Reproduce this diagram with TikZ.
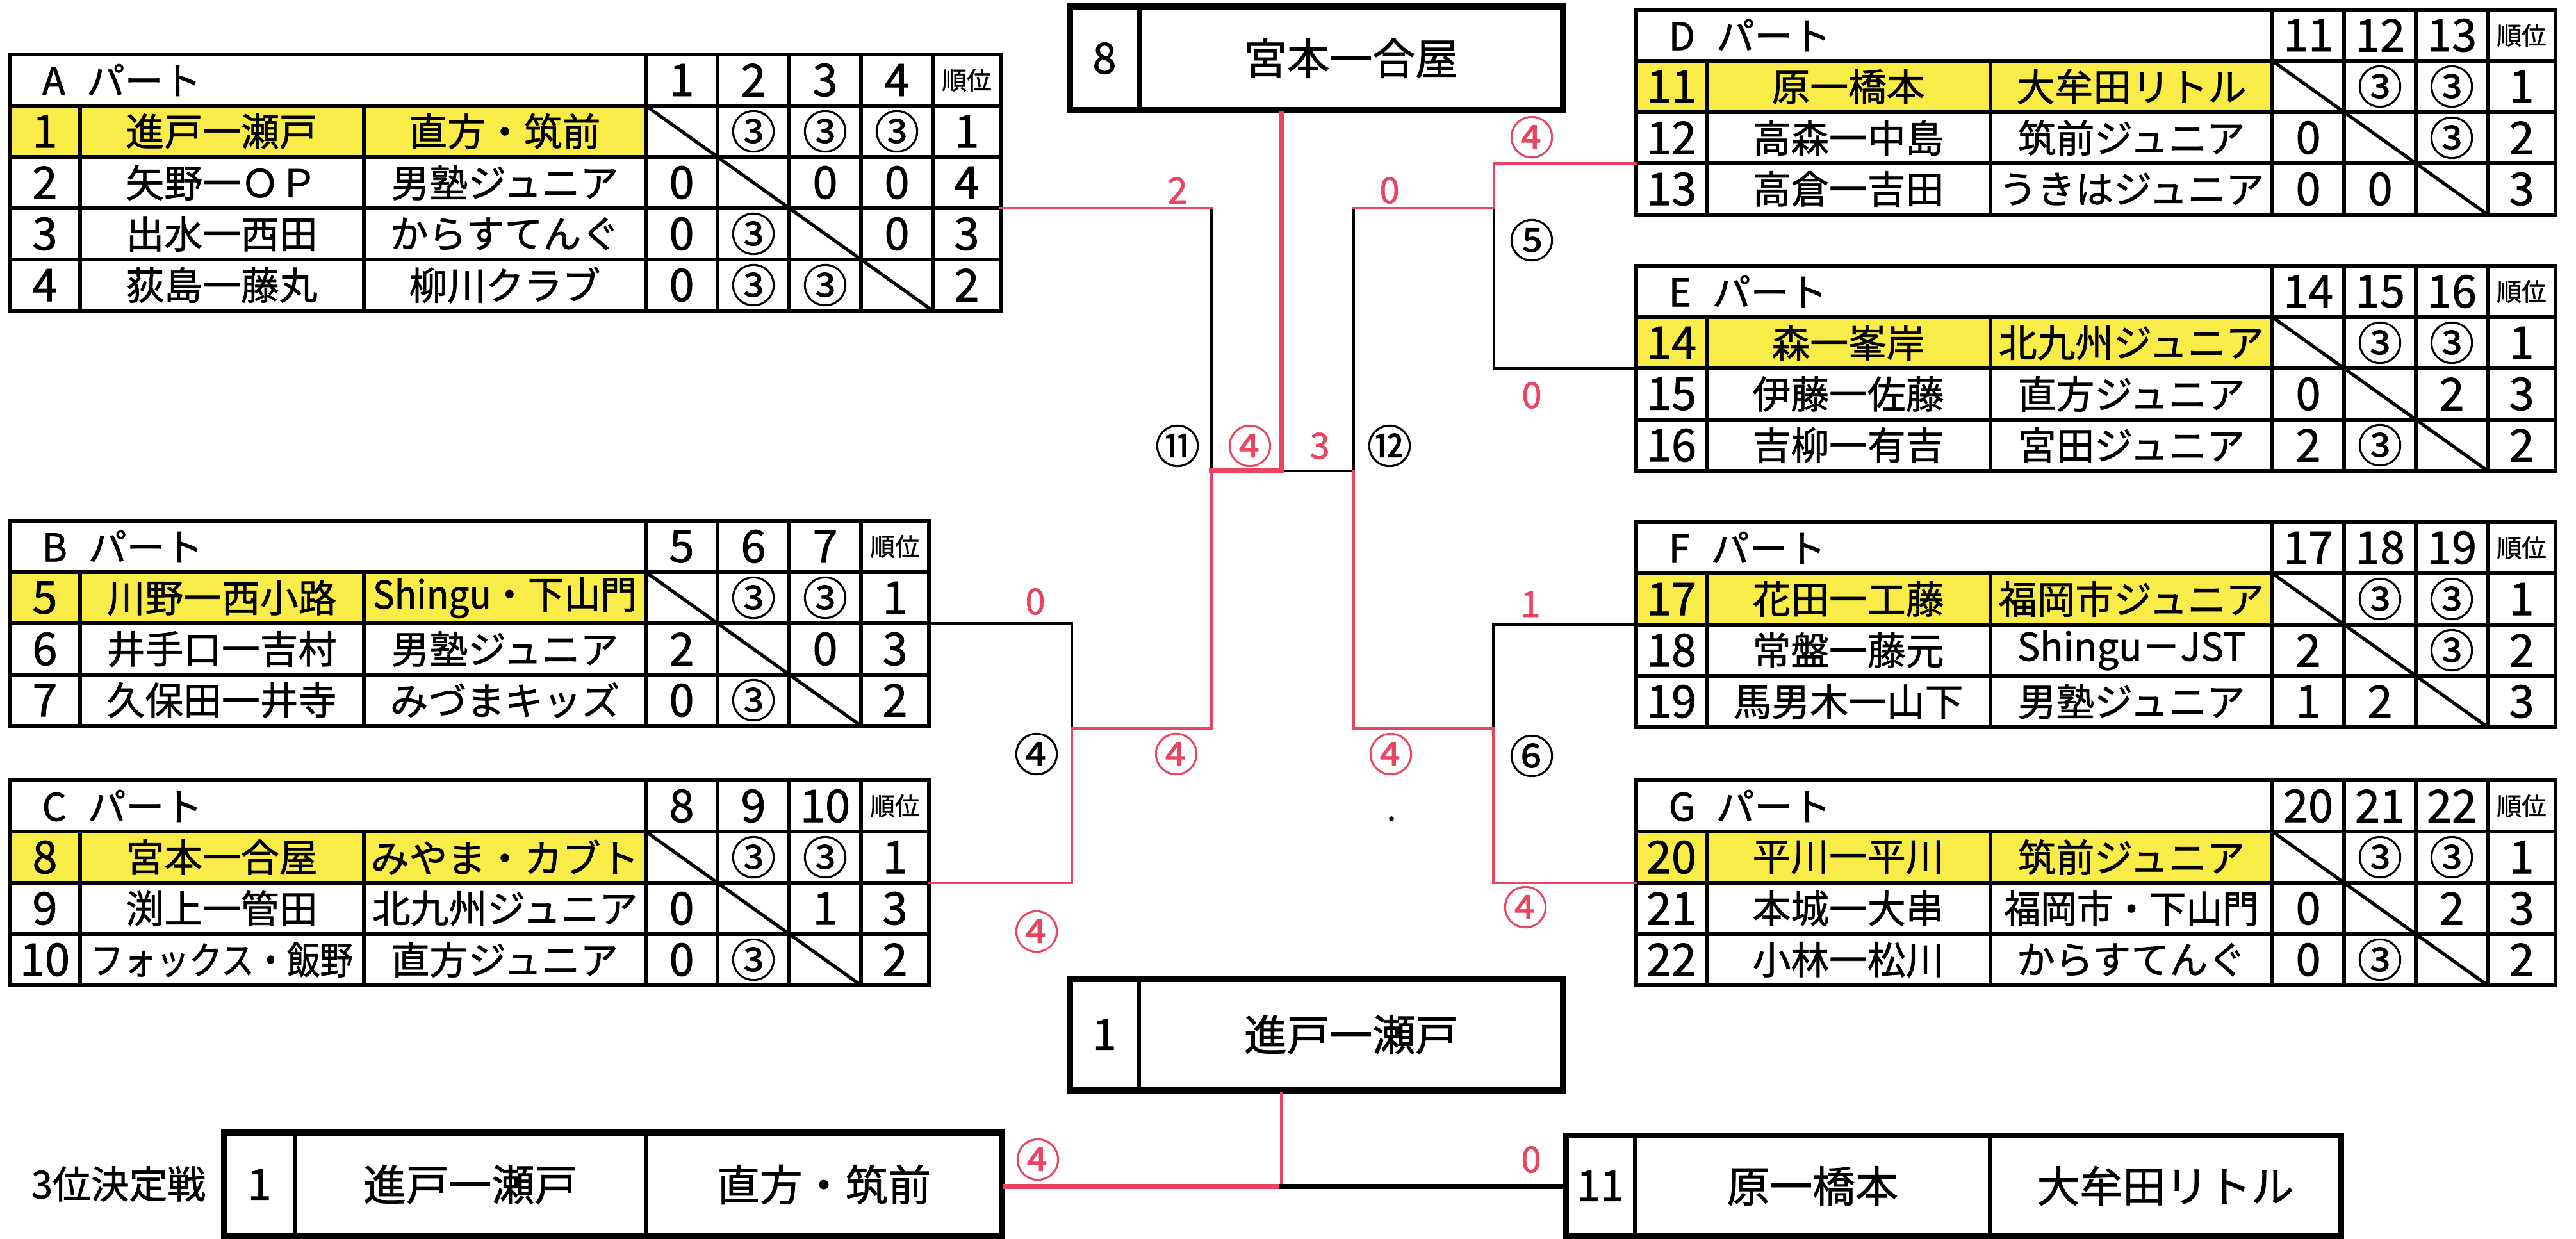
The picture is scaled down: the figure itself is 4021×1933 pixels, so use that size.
\documentclass[tikz,border=0pt]{standalone}
\usepackage{fontspec}
\newfontfamily\jp[FakeBold=1.2]{Noto Sans CJK JP}

\definecolor{partyellow}{RGB}{250,236,72}
\definecolor{winred}{RGB}{234,68,96}

\tikzset{
  every node/.style={font=\jp\fontsize{17}{20}\selectfont, inner sep=0pt},
  num/.style={font=\jp\fontsize{20}{22}\selectfont},
  gridline/.style={line width=1.5pt},
  blackline/.style={line width=1.3pt, line cap=rect},
  redline/.style={line width=1.3pt, line cap=rect, winred},
  redthick/.style={line width=2.4pt, line cap=rect, winred},
  blackthick/.style={line width=2.4pt, line cap=rect},
  pt/.style={text=winred, font=\jp\fontsize{16}{18}\selectfont},
  ptc/.style={text=winred, font=\jp\fontsize{20}{22}\selectfont},
  mno/.style={font=\jp\fontsize{20}{22}\selectfont},
  rankhead/.style={font=\jp\fontsize{11}{12}\selectfont},
  bigbox/.style={draw, line width=2.8pt},
  boxtext/.style={font=\jp\fontsize{19}{22}\selectfont},
}

% frame of one part table: id, title, number of score columns, header numbers
\newcommand{\partframe}[4]{%
  \def\ncols{#3}%
  \pgfmathsetmacro\tabw{993+112*#3+106}%
  \pgfmathsetmacro\tabh{80*(#3+1)}%
  \fill[partyellow] (0,80) rectangle (993,160);
  \draw[gridline] (0,0) rectangle (\tabw,\tabh);
  \foreach \k in {1,...,#3} {
    \draw[gridline] (0,80*\k) -- (\tabw,80*\k);
    \coordinate (#1-w\k) at (0,80*\k);
    \coordinate (#1-e\k) at (\tabw,80*\k);
    \draw[gridline] ({993+112*\k},0) -- ({993+112*\k},\tabh);
    \draw[gridline] ({993+112*(\k-1)},80*\k) -- ({993+112*\k},{80*(\k+1)});
  }
  \draw[gridline] (110,80) -- (110,\tabh);
  \draw[gridline] (553,80) -- (553,\tabh);
  \draw[gridline] (993,0) -- (993,\tabh);
  \node[anchor=west] (#1-title) at (50,40) {#2\hspace{0.55em}パート};
  \foreach \h [count=\c] in {#4}
    \node[num] (#1-h\c) at ({993+112*\c-56},40) {\h};
  \node[rankhead] (#1-hr) at ({993+112*#3+53},40) {順位};
}

% one team row: id, row, number, pair, club, scores, rank
\newcommand{\teamrow}[7]{%
  \node[num] (#1-n#2) at (55,{80*#2+40}) {#3};
  \node (#1-p#2) at (331,{80*#2+40}) {#4};
  \node (#1-c#2) at (773,{80*#2+40}) {#5};
  \foreach \s [count=\c] in {#6}
    \node[num] (#1-s#2-\c) at ({993+112*\c-56},{80*#2+40}) {\s};
  \node[num] (#1-r#2) at ({993+112*\ncols+53},{80*#2+40}) {#7};
}

\begin{document}
\begin{tikzpicture}[x=0.01cm, y=-0.01cm]
  \useasboundingbox (0,0) rectangle (4021,1933);

  % left parts
  \begin{scope}[shift={(15,85)}]
    \partframe{A}{A}{4}{1,2,3,4}
    \teamrow{A}{1}{1}{進戸一瀬戸}{直方・筑前}{{},③,③,③}{1}
    \teamrow{A}{2}{2}{矢野一ＯＰ}{男塾ジュニア}{0,{},0,0}{4}
    \teamrow{A}{3}{3}{出水一西田}{からすてんぐ}{0,③,{},0}{3}
    \teamrow{A}{4}{4}{荻島一藤丸}{柳川クラブ}{0,③,③,{}}{2}
  \end{scope}

  \begin{scope}[shift={(15,813)}]
    \partframe{B}{B}{3}{5,6,7}
    \teamrow{B}{1}{5}{川野一西小路}{\scalebox{0.95}[1]{Shingu・下山門}}{{},③,③}{1}
    \teamrow{B}{2}{6}{井手口一吉村}{男塾ジュニア}{2,{},0}{3}
    \teamrow{B}{3}{7}{久保田一井寺}{みづまキッズ}{0,③,{}}{2}
  \end{scope}

  \begin{scope}[shift={(15,1218)}]
    \partframe{C}{C}{3}{8,9,10}
    \teamrow{C}{1}{8}{宮本一合屋}{みやま・カブト}{{},③,③}{1}
    \teamrow{C}{2}{9}{渕上一管田}{北九州ジュニア}{0,{},1}{3}
    \teamrow{C}{3}{10}{\scalebox{0.86}[1]{フォックス・飯野}}{直方ジュニア}{0,③,{}}{2}
  \end{scope}

  % right parts
  \begin{scope}[shift={(2554,15)}]
    \partframe{D}{D}{3}{11,12,13}
    \teamrow{D}{1}{11}{原一橋本}{大牟田リトル}{{},③,③}{1}
    \teamrow{D}{2}{12}{高森一中島}{筑前ジュニア}{0,{},③}{2}
    \teamrow{D}{3}{13}{高倉一吉田}{うきはジュニア}{0,0,{}}{3}
  \end{scope}

  \begin{scope}[shift={(2554,415)}]
    \partframe{E}{E}{3}{14,15,16}
    \teamrow{E}{1}{14}{森一峯岸}{北九州ジュニア}{{},③,③}{1}
    \teamrow{E}{2}{15}{伊藤一佐藤}{直方ジュニア}{0,{},2}{3}
    \teamrow{E}{3}{16}{吉柳一有吉}{宮田ジュニア}{2,③,{}}{2}
  \end{scope}

  \begin{scope}[shift={(2554,815)}]
    \partframe{F}{F}{3}{17,18,19}
    \teamrow{F}{1}{17}{花田一工藤}{福岡市ジュニア}{{},③,③}{1}
    \teamrow{F}{2}{18}{常盤一藤元}{Shingu－JST}{2,{},③}{2}
    \teamrow{F}{3}{19}{馬男木一山下}{男塾ジュニア}{1,2,{}}{3}
  \end{scope}

  \begin{scope}[shift={(2554,1218)}]
    \partframe{G}{G}{3}{20,21,22}
    \teamrow{G}{1}{20}{平川一平川}{筑前ジュニア}{{},③,③}{1}
    \teamrow{G}{2}{21}{本城一大串}{\scalebox{0.95}[1]{福岡市・下山門}}{0,{},2}{3}
    \teamrow{G}{3}{22}{小林一松川}{からすてんぐ}{0,③,{}}{2}
  \end{scope}

  % winner boxes
  \node[bigbox, minimum width=7.7cm, minimum height=1.62cm] (champ) at (2055,91) {};
  \draw[line width=2pt] (1778,10) -- (1778,172);
  \node[boxtext] (champ-no) at (1724,91) {8};
  \node[boxtext] (champ-name) at (2109,91) {宮本一合屋};

  \node[bigbox, minimum width=7.7cm, minimum height=1.74cm] (bot) at (2055,1615) {};
  \draw[line width=1.5pt] (1778,1528) -- (1778,1702);
  \node[boxtext] (bot-no) at (1724,1615) {1};
  \node[boxtext] (bot-name) at (2109,1615) {進戸一瀬戸};

  % third place
  \node (third) at (185,1848) {3位決定戦};
  \node[bigbox, minimum width=12.14cm, minimum height=1.62cm] (third-l) at (957,1849) {};
  \draw[line width=1.5pt] (460,1768) -- (460,1930);
  \draw[line width=1.5pt] (1008,1768) -- (1008,1930);
  \node[boxtext] (tl-no) at (405,1849) {1};
  \node[boxtext] (tl-pair) at (734,1849) {進戸一瀬戸};
  \node[boxtext] (tl-club) at (1286,1849) {直方・筑前};

  \node[bigbox, minimum width=12.10cm, minimum height=1.57cm] (third-r) at (3049,1851) {};
  \draw[line width=1.5pt] (2552,1773) -- (2552,1930);
  \draw[line width=1.5pt] (3106,1773) -- (3106,1930);
  \node[boxtext] (tr-no) at (2498,1851) {11};
  \node[boxtext] (tr-pair) at (2829,1851) {原一橋本};
  \node[boxtext] (tr-club) at (3380,1851) {大牟田リトル};

  % bracket junctions
  \coordinate (k4) at (1673,1137);
  \coordinate (k11) at (1891,735);
  \coordinate (kf) at (2000,735);
  \coordinate (k12) at (2113,735);
  \coordinate (k5) at (2332,325);
  \coordinate (k6) at (2331,1137);
  \coordinate (k3) at (2000,1852);

  \draw[blackline] (A-e3 -| k11) -- (k11);
  \draw[redline] (A-e3) -- (A-e3 -| k11);
  \draw[blackline] (B-e2) -| (k4);
  \draw[redline] (C-e2) -| (k4);
  \draw[redline] (k4) -| (k11);
  \draw[blackline] (kf) -- (k12);
  \draw[blackline] (k12) -- (k12 |- k5);
  \draw[redline] (k12 |- k5) -- (k5);
  \draw[blackline] (E-w2) -| (k5);
  \draw[redline] (D-w3) -| (k5);
  \draw[redline] (k12) |- (k6);
  \draw[blackline] (F-w2) -| (k6);
  \draw[redline] (G-w2) -| (k6);
  \draw[redthick] (k11) -- (kf);
  \draw[redthick] (kf) -- (kf |- champ.south);

  \draw[redline] (k3 |- bot.south) -- (k3);
  \draw[redthick] (k3) -- (k3 -| third-l.east);
  \draw[blackthick] (k3) -- (k3 -| third-r.west);

  % scores and match numbers
  \node[pt] (sc-a) at (1838,297) {2};
  \node[pt] (sc-12) at (2169,297) {0};
  \node[ptc] (sc-d) at (2391,214) {④};
  \node[mno] (m5) at (2391,375) {⑤};
  \node[pt] (sc-e) at (2391,617) {0};
  \node[mno] (m11) at (1838,696) {⑪};
  \node[ptc] (sc-11) at (1951,696) {④};
  \node[pt] (sc-f12) at (2060,696) {3};
  \node[mno] (m12) at (2169,696) {⑫};
  \node[pt] (sc-b) at (1616,939) {0};
  \node[pt] (sc-f) at (2389,943) {1};
  \node[mno] (m4) at (1618,1177) {④};
  \node[ptc] (sc-4) at (1836,1177) {④};
  \node[ptc] (sc-6) at (2171,1177) {④};
  \node[mno] (m6) at (2391,1180) {⑥};
  \node[ptc] (sc-c) at (1618,1454) {④};
  \node[ptc] (sc-g) at (2381,1416) {④};
  \node[ptc] (sc-tl) at (1620,1810) {④};
  \node[pt] (sc-tr) at (2390,1810) {0};
  \fill (2172,1278) circle (1.1pt);
\end{tikzpicture}
\end{document}
